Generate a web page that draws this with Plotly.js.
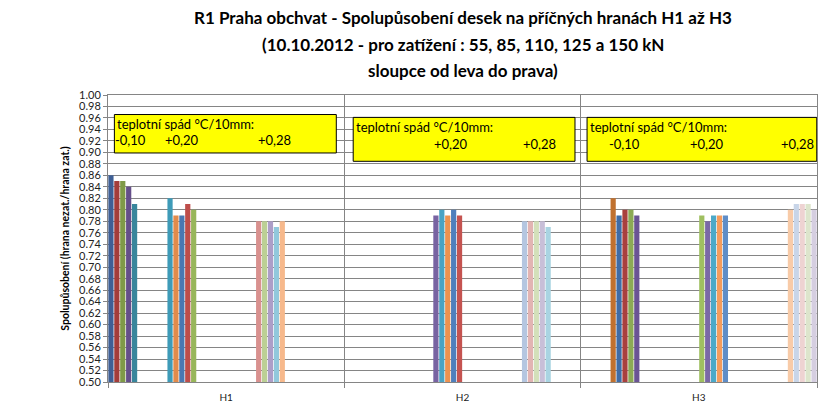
<!DOCTYPE html>
<html>
<head>
<meta charset="utf-8">
<script src="https://cdn.plot.ly/plotly-3.0.1.min.js"></script>
<style>html,body{margin:0;padding:0;background:#fff;}#chart{width:824px;height:415px;}</style>
</head>
<body>
<div id="chart"></div>
<script>
// ---- data ----
const categories = ['H1', 'H2', 'H3'];
const gradientLabels = ['-0,10', '+0,20', '+0,28'];
const loadsKN = [55, 85, 110, 125, 150];
const valsH1_m010 = [0.86, 0.85, 0.85, 0.84, 0.81];
const valsH1_p020 = [0.82, 0.79, 0.79, 0.81, 0.80];
const valsH1_p028 = [0.78, 0.78, 0.78, 0.77, 0.78];
const valsH2_m010 = null;
const valsH2_p020 = [0.79, 0.80, 0.79, 0.80, 0.79];
const valsH2_p028 = [0.78, 0.78, 0.78, 0.78, 0.77];
const valsH3_m010 = [0.82, 0.79, 0.80, 0.80, 0.79];
const valsH3_p020 = [0.79, 0.78, 0.79, 0.79, 0.79];
const valsH3_p028 = [0.80, 0.81, 0.81, 0.81, 0.80];
const titleLines = [
  'R1 Praha obchvat - Spolupůsobení desek na příčných hranách H1 až H3',
  '(10.10.2012 - pro zatížení : 55, 85, 110, 125 a 150 kN',
  'sloupce od leva do prava)'
];
const yTitle = 'Spolupůsobení (hrana nezat./hrana zat.)';
const boxHeader = 'teplotní spád °C/10mm:';

// ---- layout of the series slots (Excel-like clustered layout) ----
const SLOTS = 40;
const seriesByCat = [
  [valsH1_m010, valsH1_p020, valsH1_p028],
  [valsH2_m010, valsH2_p020, valsH2_p028],
  [valsH3_m010, valsH3_p020, valsH3_p028]
];
const slotStart = [[0, 10, 25], [null, 15, 30], [5, 20, 35]];
const slotColors = [
  '#3E5F95','#A33D3A','#7F9A48','#654F8A','#38869C','#C0712F',
  '#3F6CA6','#A8403E','#8CAA55','#6A5494','#3E9BB8','#E28B4B',
  '#4A78B2','#BE4D4A','#98B65A','#7863A2','#4AA3C4','#EE9250',
  '#4F7FBC','#C55350','#9FBF60','#7A68A6','#4CA9C8','#F59C5C',
  '#5F8DC7','#D9918F','#BCD095','#AD9EC8','#92C8DC','#F7B98C',
  '#B4C6E0','#E2B4B3','#D3E0BA','#C8BFD8','#A9D4E2','#F8CBA8',
  '#C8D5E8','#EED3D2','#DDE5CC','#D5CEE0'
];

const traces = [];
for (let s = 0; s < SLOTS; s++) {
  const y = categories.map((c, ci) => {
    for (let g = 0; g < 3; g++) {
      const st = slotStart[ci][g];
      const vals = seriesByCat[ci][g];
      if (st !== null && vals && s >= st && s < st + loadsKN.length) return vals[s - st];
    }
    return null;
  });
  traces.push({
    type: 'bar', x: categories, y: y,
    marker: {color: slotColors[s], line: {width: 0}},
    showlegend: false, hoverinfo: 'skip'
  });
}

// ---- annotation boxes ----
const FONT = 'Lato, "Open Sans", "Liberation Sans", sans-serif';
const boxes = [
  {x0: -0.473, x1: 0.466, y0: 0.899, y1: 0.966, hx: -0.469, hy: 0.950, vy: 0.922,
   vals: [[gradientLabels[0], -0.406], [gradientLabels[1], -0.187], [gradientLabels[2], 0.203]]},
  {x0: 0.5375, x1: 1.476, y0: 0.8845, y1: 0.961, hx: 0.542, hy: 0.9445, vy: 0.915,
   vals: [[gradientLabels[1], 0.952], [gradientLabels[2], 1.327]]},
  {x0: 1.527, x1: 2.499, y0: 0.8845, y1: 0.961, hx: 1.531, hy: 0.9445, vy: 0.915,
   vals: [[gradientLabels[0], 1.686], [gradientLabels[1], 2.034], [gradientLabels[2], 2.416]]}
];
const shapes = boxes.map(b => ({
  type: 'rect', xref: 'x', yref: 'y', x0: b.x0, x1: b.x1, y0: b.y0, y1: b.y1,
  fillcolor: '#FFFF00', line: {color: '#000000', width: 1}, layer: 'above'
}));
const annotations = [];
boxes.forEach(b => {
  annotations.push({xref: 'x', yref: 'y', x: b.hx, y: b.hy, xanchor: 'left', yanchor: 'middle',
    text: boxHeader, showarrow: false, font: {family: FONT, size: 13, color: '#000'}});
  b.vals.forEach(v => annotations.push({xref: 'x', yref: 'y', x: v[1], y: b.vy, xanchor: 'center', yanchor: 'middle',
    text: v[0], showarrow: false, font: {family: FONT, size: 13, color: '#000'}}));
});
const titleY = [1.2705, 1.176, 1.0855];
titleLines.forEach((t, i) => annotations.push({xref: 'paper', yref: 'paper', x: 0.5, y: titleY[i],
  xanchor: 'center', yanchor: 'middle', text: '<b>' + t + '</b>', showarrow: false,
  font: {family: FONT, size: 17, color: '#000'}}));

const layout = {
  width: 824, height: 415,
  margin: {l: 108, r: 7, t: 95, b: 33},
  paper_bgcolor: '#fff', plot_bgcolor: '#fff',
  barmode: 'group', bargap: 0, bargroupgap: 0.12,
  font: {family: FONT},
  xaxis: {
    type: 'category', tickson: 'boundaries', showgrid: true, gridcolor: '#858585', gridwidth: 1,
    showline: true, linecolor: '#858585', mirror: true, ticks: 'outside', ticklen: 5, tickcolor: '#858585',
    ticklabelstandoff: 6,
    tickfont: {family: FONT, size: 10, color: '#222'}, range: [-0.5, 2.5], fixedrange: true
  },
  yaxis: {
    range: [0.5, 1.0], dtick: 0.02, tick0: 0.5, tickformat: '.2f',
    showgrid: true, gridcolor: '#858585', gridwidth: 1, zeroline: false,
    showline: true, linecolor: '#858585', mirror: true, ticks: 'outside', ticklen: 4, tickcolor: '#858585',
    tickfont: {family: FONT, size: 11, color: '#222'},
    title: {text: '<b>' + yTitle + '</b>', font: {family: FONT, size: 10.5, color: '#000'}, standoff: 7},
    fixedrange: true
  },
  shapes: shapes,
  annotations: annotations
};
Plotly.newPlot('chart', traces, layout, {displayModeBar: false, staticPlot: true});
</script>
</body>
</html>
